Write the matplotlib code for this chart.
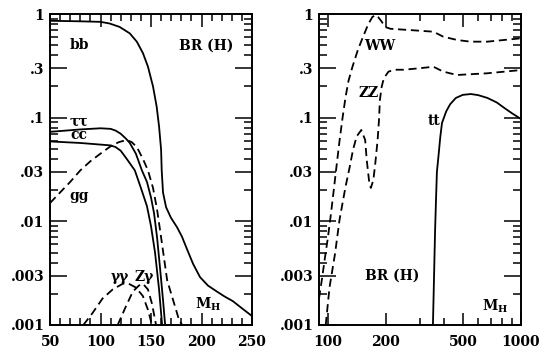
"""
plot.py

Higgs branching ratios BR(H) versus M_H, two panels:
light Higgs (linear mass axis) and heavy Higgs (log mass axis).
"""

import matplotlib
matplotlib.use("Agg")
import matplotlib.pyplot as plt
from matplotlib.ticker import FixedLocator, NullFormatter, FixedFormatter

plt.rcParams['font.family'] = ['DejaVu Serif']
plt.rcParams['font.weight'] = 'bold'
plt.rcParams['mathtext.fontset'] = 'dejavuserif'

# ---- left panel data (M_H in GeV, BR) ----
bb_m = [50, 80, 100, 109, 119, 129, 136, 142, 147, 152, 155.6, 158, 160, 160.6, 161.9, 164.9, 169.8, 175.7, 180.7, 185.6, 191.6, 198.5, 206.4, 215.3, 223, 231, 240, 250]
bb_br = [0.86, 0.85, 0.84, 0.81, 0.75, 0.65, 0.54, 0.42, 0.31, 0.20, 0.128, 0.082, 0.049, 0.031, 0.019, 0.0137, 0.0108, 0.0088, 0.0071, 0.0054, 0.0039, 0.0029, 0.0024, 0.0021, 0.00188, 0.0017, 0.00145, 0.00122]

tautau_m = [50, 80, 100, 110, 115, 120, 125, 129, 135, 141, 146, 150, 153, 156, 159, 162, 164]
tautau_br = [0.073, 0.077, 0.079, 0.078, 0.075, 0.070, 0.063, 0.057, 0.045, 0.031, 0.024, 0.017, 0.012, 0.007, 0.0035, 0.0017, 0.001]

cc_m = [50, 80, 100, 110, 115, 120, 126, 134, 140, 146, 150, 154, 158, 160, 161]
cc_br = [0.059, 0.057, 0.055, 0.054, 0.052, 0.048, 0.04, 0.031, 0.021, 0.014, 0.009, 0.005, 0.0022, 0.0013, 0.001]

gg_m = [50, 60, 70, 80, 90, 100, 110, 118, 126, 131, 136, 142, 147, 152, 156, 160, 166, 173, 178, 181]
gg_br = [0.015, 0.019, 0.024, 0.031, 0.038, 0.045, 0.053, 0.058, 0.061, 0.058, 0.052, 0.04, 0.031, 0.021, 0.013, 0.007, 0.0027, 0.0016, 0.0011, 0.001]

gamgam_m = [83, 92, 102, 112, 122, 128, 135, 142, 147, 151]
gamgam_br = [0.001, 0.0013, 0.0018, 0.0022, 0.0025, 0.0025, 0.0023, 0.0019, 0.0014, 0.001]

zgam_m = [117, 125, 132, 138, 142, 147, 151, 155]
zgam_br = [0.001, 0.0015, 0.0021, 0.0024, 0.0025, 0.0022, 0.0016, 0.001]

# ---- right panel data ----
ww_m = [90, 93.3, 96.5, 100, 103.6, 107.3, 111.1, 115.1, 119.2, 123.5, 127.9, 134, 143, 152, 162, 170, 176, 182, 189, 198, 211, 266, 352, 396, 468, 546, 670, 812, 1000]
ww_br = [0.0018, 0.0028, 0.0044, 0.0069, 0.0115, 0.020, 0.035, 0.061, 0.10, 0.158, 0.226, 0.308, 0.45, 0.60, 0.80, 0.935, 0.978, 0.935, 0.856, 0.75, 0.72, 0.70, 0.675, 0.604, 0.561, 0.541, 0.541, 0.561, 0.583]

zz_m = [97.5, 102, 109, 115, 123.5, 130, 135, 141, 149, 156, 159, 164, 167, 172, 176, 181, 184, 186, 190, 195, 206, 222, 247, 300, 352, 396, 466, 670, 1000]
zz_br = [0.001, 0.0023, 0.0049, 0.0104, 0.0216, 0.034, 0.049, 0.066, 0.076, 0.061, 0.039, 0.0233, 0.021, 0.025, 0.036, 0.061, 0.095, 0.148, 0.199, 0.24, 0.278, 0.29, 0.29, 0.30, 0.31, 0.278, 0.258, 0.268, 0.288]

tt_m = [350, 353, 356, 359, 363, 367, 375, 382, 390, 410, 430, 460, 500, 550, 600, 670, 750, 820, 900, 1000]
tt_br = [0.001, 0.002, 0.004, 0.008, 0.016, 0.03, 0.045, 0.065, 0.089, 0.115, 0.135, 0.155, 0.166, 0.169, 0.165, 0.155, 0.14, 0.124, 0.11, 0.097]

# ---- axis ticks ----
y_major = [1, 0.3, 0.1, 0.03, 0.01, 0.003, 0.001]
y_labels = ['1', '.3', '.1', '.03', '.01', '.003', '.001']
y_minor = [m * 10.0 ** e for e in (-3, -2, -1) for m in (2, 4, 5, 6, 7, 8, 9)]

left_x_major = [50, 100, 150, 200, 250]
left_x_minor = list(range(60, 250, 10))

right_x_major = [100, 200, 500, 1000]
right_x_labels = ['100', '200', '500', '1000']
right_x_minor = [300, 400, 600, 700, 800, 900]

LW = 1.3
DASH = (4.5, 2.6)
FS = 10


def style_axis(ax):
    ax.set_yscale('log')
    ax.set_ylim(0.001, 1)
    ax.yaxis.set_major_locator(FixedLocator(y_major))
    ax.yaxis.set_major_formatter(FixedFormatter(y_labels))
    ax.yaxis.set_minor_locator(FixedLocator(y_minor))
    ax.yaxis.set_minor_formatter(NullFormatter())
    ax.tick_params(which='both', direction='in', top=True, right=True,
                   width=1.1, labelsize=FS)
    ax.tick_params(axis='y', which='major', length=12, pad=4)
    ax.tick_params(axis='y', which='minor', length=6)
    ax.tick_params(axis='x', which='major', length=9, pad=7)
    ax.tick_params(axis='x', which='minor', length=5)
    for lab in ax.get_xticklabels() + ax.get_yticklabels():
        lab.set_fontweight('bold')
    for sp in ax.spines.values():
        sp.set_linewidth(1.4)


def main():
    fig = plt.figure(figsize=(5.45, 3.57), dpi=100)
    ax1 = fig.add_axes([50 / 545, 32 / 357, 202 / 545, 311 / 357])
    ax2 = fig.add_axes([319 / 545, 32 / 357, 202 / 545, 311 / 357])

    # left panel
    ax1.plot(bb_m, bb_br, 'k-', lw=LW)
    ax1.plot(tautau_m, tautau_br, 'k-', lw=LW)
    ax1.plot(cc_m, cc_br, 'k-', lw=LW)
    ax1.plot(gg_m, gg_br, 'k--', lw=LW, dashes=DASH)
    ax1.plot(gamgam_m, gamgam_br, 'k--', lw=LW, dashes=DASH)
    ax1.plot(zgam_m, zgam_br, 'k--', lw=LW, dashes=DASH)
    ax1.set_xlim(50, 250)
    ax1.xaxis.set_major_locator(FixedLocator(left_x_major))
    ax1.xaxis.set_minor_locator(FixedLocator(left_x_minor))
    style_axis(ax1)

    txt = dict(fontsize=FS, fontweight='bold', ha='center', va='center')
    ax1.text(79, 0.50, 'bb', **txt)
    ax1.text(205, 0.50, 'BR (H)', **txt)
    ax1.text(79, 0.092, 'ττ', **txt)
    ax1.text(79, 0.068, 'cc', **txt)
    ax1.text(79, 0.0176, 'gg', **txt)
    ax1.text(119, 0.0029, 'γγ', **txt)
    ax1.text(143, 0.0029, 'Zγ', **txt)
    ax1.text(207, 0.0016, r'$\mathbf{M_H}$', **txt)

    # right panel
    ax2.plot(ww_m, ww_br, 'k--', lw=LW, dashes=DASH)
    ax2.plot(zz_m, zz_br, 'k--', lw=LW, dashes=DASH)
    ax2.plot(tt_m, tt_br, 'k-', lw=LW)
    ax2.set_xscale('log')
    ax2.set_xlim(90, 1000)
    ax2.xaxis.set_major_locator(FixedLocator(right_x_major))
    ax2.xaxis.set_major_formatter(FixedFormatter(right_x_labels))
    ax2.xaxis.set_minor_locator(FixedLocator(right_x_minor))
    ax2.xaxis.set_minor_formatter(NullFormatter())
    style_axis(ax2)

    ax2.text(186, 0.49, 'WW', **txt)
    ax2.text(163, 0.173, 'ZZ', **txt)
    ax2.text(356, 0.093, 'tt', **txt)
    ax2.text(215, 0.0030, 'BR (H)', **txt)
    ax2.text(737, 0.0015, r'$\mathbf{M_H}$', **txt)

    fig.savefig('out.png', dpi=100)
    plt.close(fig)


if __name__ == "__main__":
    main()
